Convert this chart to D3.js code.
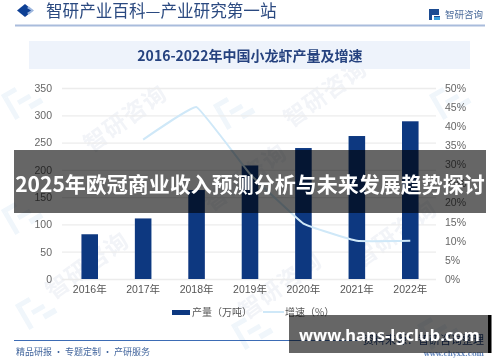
<!DOCTYPE html>
<html><head><meta charset="utf-8">
<style>html,body{margin:0;padding:0;background:#fff;overflow:hidden}svg{display:block}</style>
<script src="https://cdnjs.cloudflare.com/ajax/libs/d3/7.8.5/d3.min.js"></script>
</head><body><svg id="c" width="500" height="362"></svg>
<script>
const years=["2016年","2017年","2018年","2019年","2020年","2021年","2022年"];
const output=[82,111,163,208,240,262,289];
const growthYears=["2017年","2018年","2019年","2020年","2021年","2022年"];
const growth=[36.5,45,27.5,14.5,10,10];
const leftTicks=[0,50,100,150,200,250,300,350];
const rightTicks=[0,5,10,15,20,25,30,35,40,45,50];
const seriesNames=["产量（万吨）","增速（%）"];
const chartTitle="2016-2022年中国小龙虾产量及增速";
const headerText="智研产业百科—产业研究第一站";
const brandText="智研咨询";
const footerLeft="精品研报 · 专题定制 · 产研服务";
const footerSource="资料来源：智研咨询整理";
const footerSite="www.chyxx.com";
const overlayTitle="2025年欧冠商业收入预测分析与未来发展趋势探讨";
const overlaySite="www.hans-lgclub.com";

const CJK='"Noto Sans CJK SC","Noto Sans",sans-serif';
const LAT='"Liberation Sans",Arial,"Noto Sans CJK SC",sans-serif';
const svg=d3.select("#c");
const defs=svg.append("defs");
defs.append("filter").attr("id","soft").attr("x","-2%").attr("y","-2%").attr("width","104%").attr("height","104%")
  .append("feGaussianBlur").attr("stdDeviation",0.4);
svg.append("rect").attr("width",500).attr("height",362).attr("fill","#fff");
const base=svg.append("g").attr("filter","url(#soft)");

// faint watermarks
const marks=[[92,272],[250,184],[330,100],[130,125],[400,240],[285,292]];
const wm=base.append("g").attr("fill","#f2f4f8").attr("font-family",CJK).attr("font-weight",700);
marks.forEach(([x,y])=>{
  wm.append("text").attr("transform",`translate(${x},${y}) rotate(-36)`).attr("text-anchor","middle")
    .attr("font-size",23).attr("letter-spacing",1).text(brandText);
});
const logos=[[34,310],[232,110],[20,100],[250,330],[448,100],[20,215],[436,330]];
logos.forEach(([x,y])=>{
  const g=base.append("g").attr("transform",`translate(${x},${y}) rotate(-30)`).attr("fill","#f0f6fb");
  g.append("rect").attr("x",-14).attr("y",-14).attr("width",16).attr("height",5);
  g.append("rect").attr("x",-14).attr("y",-9).attr("width",5).attr("height",24);
  g.append("rect").attr("x",-3).attr("y",-1).attr("width",14).attr("height",5);
  g.append("rect").attr("x",5).attr("y",8).attr("width",14).attr("height",6);
});

// header
base.append("path").attr("d","M17,10.5 L25,4 L33,10.5 L25,17 Z").attr("fill","#0e3f95");
base.append("path").attr("d","M29,6.5 L34,10.5 L29,14.5 L27,13 L31,10.5 L27,8 Z").attr("fill","#9db7de");
base.append("text").attr("x",46).attr("y",17).attr("font-family",CJK).attr("font-size",16.6).attr("fill","#2b4a80").text(headerText);
base.append("rect").attr("x",15).attr("y",24.5).attr("width",470).attr("height",2).attr("fill","#a9bcdc");
const lg=base.append("g").attr("transform","translate(429,9)");
lg.append("path").attr("d","M0,0H10V6H3V11H0Z M5,7H11V11H5Z").attr("fill","#1d4b91");
lg.append("rect").attr("x",5).attr("y",8).attr("width",6).attr("height",3).attr("fill","#3aa0dc");
base.append("text").attr("x",445).attr("y",18).attr("font-family",CJK).attr("font-size",9.5).attr("fill","#4b6b9b").text(brandText);

// title band
base.append("rect").attr("x",29).attr("y",41).attr("width",441).attr("height",28).attr("fill","#eef3fb");
base.append("text").attr("x",250).attr("y",61).attr("text-anchor","middle").attr("font-family",CJK).attr("font-weight",700)
  .attr("font-size",14).attr("fill","#26437f").text(chartTitle);

// chart
const x=d3.scaleBand().domain(years).range([63,437]).paddingInner(0.69).paddingOuter(0.345);
const y=d3.scaleLinear().domain([0,350]).range([279,88]);
const yR=d3.scaleLinear().domain([0,50]).range([279,88]);
const gl=base.append("g").attr("transform","translate(62,0)")
  .call(d3.axisLeft(y).tickValues(leftTicks).tickSize(-374).tickPadding(10));
gl.select(".domain").remove();
gl.selectAll("line").attr("stroke","#ececec").attr("stroke-width",1.3);
gl.selectAll("text").attr("font-family",LAT).attr("font-size",10.5).attr("fill","#666");
const gr=base.append("g").attr("transform","translate(436,0)")
  .call(d3.axisRight(yR).tickValues(rightTicks).tickSize(0).tickPadding(9).tickFormat(d=>d+"%"));
gr.select(".domain").remove();
gr.selectAll("text").attr("font-family",LAT).attr("font-size",10.5).attr("fill","#666");
const gx=base.append("g").attr("transform","translate(0,279)").call(d3.axisBottom(x).tickSize(0).tickPadding(7));
gx.select(".domain").remove();
gx.selectAll("text").attr("font-family",LAT).attr("font-size",10.5).attr("fill","#555");

base.selectAll("rect.bar").data(output).join("rect").attr("class","bar")
  .attr("x",(d,i)=>x(years[i])).attr("width",x.bandwidth())
  .attr("y",d=>y(d)).attr("height",d=>y(0)-y(d)).attr("fill","#0d3880");

const line=d3.line().x((d,i)=>x(growthYears[i])+x.bandwidth()/2).y(d=>yR(d)).curve(d3.curveCardinal.tension(0.75));
base.append("path").attr("d",line(growth)).attr("fill","none").attr("stroke","#cfe8f8").attr("stroke-width",2);

// legend
base.append("rect").attr("x",172).attr("y",310).attr("width",18).attr("height",5).attr("fill","#0d3880");
base.append("text").attr("x",192).attr("y",316).attr("font-family",CJK).attr("font-size",10).attr("fill","#555").text(seriesNames[0]);
base.append("rect").attr("x",263).attr("y",311).attr("width",21).attr("height",2).attr("fill","#cfe8f8");
base.append("text").attr("x",285).attr("y",316).attr("font-family",CJK).attr("font-size",10).attr("fill","#555").text(seriesNames[1]);

// footer
base.append("rect").attr("x",14).attr("y",340).attr("width",344).attr("height",1).attr("fill","#3d6cb5");
base.append("text").attr("x",16).attr("y",355).attr("font-family",CJK).attr("font-size",9).attr("fill","#44679e").text(footerLeft);
base.append("text").attr("x",484).attr("y",344).attr("text-anchor","end").attr("font-family",CJK).attr("font-size",11).attr("fill","#1f3f78").text(footerSource);
base.append("text").attr("x",484).attr("y",356).attr("text-anchor","end").attr("font-family",'"DejaVu Serif",serif').attr("font-weight",700).attr("font-size",7).attr("fill","#6b8cc0").text(footerSite);

// overlays
svg.append("rect").attr("x",14).attr("y",150).attr("width",472).attr("height",63).attr("fill","rgba(0,0,0,0.6)");
svg.append("text").attr("x",250).attr("y",192).attr("text-anchor","middle").attr("font-family",CJK).attr("font-weight",700)
  .attr("font-size",21).attr("fill","#fff").text(overlayTitle);
svg.append("rect").attr("x",289).attr("y",315).attr("width",199).attr("height",38).attr("fill","rgba(0,0,0,0.6)");
svg.append("rect").attr("x",488).attr("y",315).attr("width",3.5).attr("height",38).attr("fill","#000");
svg.append("text").attr("x",299).attr("y",341).attr("font-family",'"Noto Sans",sans-serif').attr("font-weight",700)
  .attr("font-size",16.5).attr("fill","#fff").text(overlaySite);
</script></body></html>
